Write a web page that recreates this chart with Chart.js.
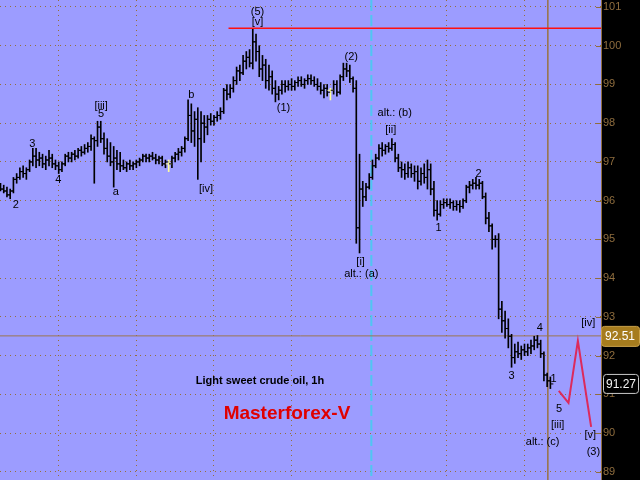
<!DOCTYPE html>
<html>
<head>
<meta charset="utf-8">
<script src="https://cdn.jsdelivr.net/npm/chart.js@4.4.0/dist/chart.umd.min.js"></script>
<style>
  html, body { margin: 0; padding: 0; background: #000; }
  #wrap { width: 640px; height: 480px; position: relative; }
</style>
</head>
<body>
<div id="wrap"><canvas id="c" width="640" height="480"></canvas></div>
<script>
// Hourly OHLC bars, light sweet crude oil
const openPrices = [
  96.35, 96.3, 96.25, 96.15, 96.25, 96.55, 96.6, 96.75, 96.7, 96.8,
  97.0, 97.15, 97.05, 97.1, 96.95, 97.05, 97.1, 96.95, 96.9, 96.8,
  96.95, 97.15, 97.1, 97.2, 97.15, 97.3, 97.25, 97.35, 97.4, 97.6,
  97.55, 97.9, 97.6, 97.35, 97.15, 97.0, 97.1, 96.95, 96.9, 96.85,
  96.95, 96.9, 96.95, 97.0, 97.05, 97.15, 97.1, 97.15, 97.1, 97.05,
  97.1, 96.95, 96.95, 96.95, 97.1, 97.2, 97.25, 97.35, 97.6, 98.2,
  97.8, 98.1, 97.6, 98.0, 97.9, 98.1, 98.05, 98.15, 98.2, 98.3,
  98.85, 98.75, 98.9, 99.1, 99.35, 99.3, 99.6, 99.7, 99.55, 100.1,
  99.85, 99.4, 99.5, 99.1, 99.2, 98.9, 98.75, 98.85, 99.0, 98.95,
  99.0, 98.95, 99.05, 99.1, 99.0, 99.1, 99.15, 99.1, 99.0, 98.95,
  98.85, 98.9, 98.85, 98.85, 99.0, 98.8, 99.2, 99.4, 99.35, 99.15,
  98.9, 95.3, 96.3, 96.1, 96.35, 96.6, 96.9, 97.1, 97.35, 97.3,
  97.4, 97.35, 97.45, 97.1, 96.85, 96.8, 96.7, 96.85, 96.7, 96.75,
  96.5, 96.7, 96.6, 96.8, 96.3, 95.75, 95.65, 95.9, 95.95, 95.9,
  95.95, 95.85, 95.9, 95.85, 96.0, 96.35, 96.4, 96.45, 96.4, 96.45,
  96.1, 95.55, 95.35, 95.0, 95.0, 93.2, 92.9, 92.7, 92.5, 91.95,
  92.1, 92.05, 92.15, 92.1, 92.2, 92.25, 92.4, 92.3, 92.05, 91.5,
  91.35
];
const highPrices = [
  96.45, 96.4, 96.35, 96.3, 96.6, 96.7, 96.85, 96.9, 96.85, 97.05,
  97.35, 97.35, 97.25, 97.2, 97.15, 97.3, 97.2, 97.05, 97.0, 97.0,
  97.2, 97.25, 97.25, 97.3, 97.35, 97.4, 97.45, 97.5, 97.7, 97.65,
  98.05, 98.05, 97.75, 97.6, 97.5, 97.4, 97.3, 97.25, 97.05, 97.0,
  97.05, 97.0, 97.05, 97.1, 97.2, 97.2, 97.2, 97.25, 97.2, 97.15,
  97.15, 97.05, 97.05, 97.15, 97.25, 97.35, 97.4, 97.65, 98.6, 98.5,
  98.3, 98.4, 98.3, 98.2, 98.2, 98.25, 98.2, 98.3, 98.4, 98.9,
  99.0, 99.0, 99.2, 99.45, 99.5, 99.75, 99.85, 99.9, 100.43, 100.3,
  100.0, 99.75, 99.65, 99.5, 99.35, 99.1, 98.95, 99.1, 99.1, 99.1,
  99.15, 99.1, 99.2, 99.2, 99.15, 99.25, 99.25, 99.2, 99.15, 99.05,
  99.0, 99.0, 98.9, 99.1, 99.1, 99.25, 99.55, 99.55, 99.5, 99.2,
  99.1, 97.2, 96.5, 96.45, 96.7, 97.05, 97.2, 97.45, 97.5, 97.45,
  97.5, 97.6, 97.5, 97.2, 97.0, 96.95, 97.0, 96.95, 96.9, 96.9,
  96.85, 96.95, 97.05, 96.95, 96.5, 96.0, 96.0, 96.05, 96.05, 96.05,
  96.0, 96.0, 96.0, 96.05, 96.4, 96.5, 96.55, 96.6, 96.55, 96.5,
  96.2, 95.7, 95.4, 95.1, 95.15, 93.4, 93.15, 92.95, 92.55, 92.3,
  92.35, 92.25, 92.3, 92.3, 92.4, 92.5, 92.52, 92.4, 92.1, 91.55,
  91.45
];
const lowPrices = [
  96.25, 96.2, 96.1, 96.05, 96.2, 96.45, 96.55, 96.6, 96.55, 96.75,
  96.9, 96.85, 96.9, 96.85, 96.8, 96.9, 96.85, 96.8, 96.7, 96.75,
  96.9, 97.0, 97.0, 97.05, 97.1, 97.15, 97.2, 97.25, 97.3, 96.45,
  97.4, 97.5, 97.2, 97.0, 96.9, 96.35, 96.8, 96.75, 96.8, 96.75,
  96.8, 96.8, 96.85, 96.9, 97.0, 97.0, 97.0, 97.05, 96.95, 96.95,
  96.9, 96.85, 96.75, 96.85, 97.0, 97.05, 97.15, 97.25, 97.55, 97.5,
  97.4, 96.55, 97.0, 97.5, 97.7, 97.95, 97.95, 98.05, 98.1, 98.25,
  98.6, 98.65, 98.8, 99.0, 99.1, 99.25, 99.4, 99.45, 99.4, 99.6,
  99.2, 99.1, 98.9, 98.85, 98.75, 98.55, 98.6, 98.75, 98.8, 98.85,
  98.85, 98.85, 98.95, 98.95, 98.9, 99.0, 99.0, 98.95, 98.85, 98.75,
  98.65, 98.7, 98.6, 98.75, 98.7, 98.75, 99.1, 99.2, 99.05, 98.8,
  94.9, 94.65, 95.85, 96.0, 96.3, 96.55, 96.85, 97.05, 97.15, 97.2,
  97.25, 97.3, 97.0, 96.75, 96.6, 96.55, 96.6, 96.6, 96.5, 96.3,
  96.4, 96.45, 96.3, 96.15, 95.6, 95.5, 95.6, 95.8, 95.85, 95.8,
  95.75, 95.75, 95.7, 95.8, 95.95, 96.2, 96.3, 96.3, 96.3, 96.05,
  95.4, 95.2, 94.75, 94.8, 92.95, 92.6, 92.45, 92.2, 91.7, 91.8,
  91.95, 91.9, 92.0, 92.0, 92.05, 92.15, 92.2, 91.95, 91.35, 91.2,
  91.15
];
const closePrices = [
  96.3, 96.25, 96.15, 96.25, 96.55, 96.6, 96.75, 96.7, 96.8, 97.0,
  97.15, 97.05, 97.1, 96.95, 97.05, 97.1, 96.95, 96.9, 96.8, 96.95,
  97.15, 97.1, 97.2, 97.15, 97.3, 97.25, 97.35, 97.4, 97.6, 97.55,
  97.9, 97.6, 97.35, 97.15, 97.0, 97.1, 96.95, 96.9, 96.85, 96.95,
  96.9, 96.95, 97.0, 97.05, 97.15, 97.1, 97.15, 97.1, 97.05, 97.1,
  96.95, 97.0, 96.95, 97.1, 97.2, 97.25, 97.35, 97.6, 98.2, 97.8,
  98.1, 97.6, 98.0, 97.9, 98.1, 98.05, 98.15, 98.2, 98.3, 98.85,
  98.75, 98.9, 99.1, 99.35, 99.3, 99.6, 99.7, 99.55, 100.1, 99.85,
  99.4, 99.5, 99.1, 99.2, 98.9, 98.75, 98.85, 99.0, 98.95, 99.0,
  98.95, 99.05, 99.1, 99.0, 99.1, 99.15, 99.1, 99.0, 98.95, 98.85,
  98.9, 98.8, 98.85, 99.0, 98.8, 99.2, 99.4, 99.35, 99.15, 98.9,
  95.3, 96.3, 96.1, 96.35, 96.6, 96.9, 97.1, 97.35, 97.3, 97.4,
  97.35, 97.45, 97.1, 96.85, 96.8, 96.7, 96.85, 96.7, 96.75, 96.5,
  96.7, 96.6, 96.8, 96.3, 95.75, 95.65, 95.9, 95.95, 95.9, 95.95,
  95.85, 95.9, 95.85, 96.0, 96.35, 96.4, 96.45, 96.4, 96.45, 96.1,
  95.55, 95.35, 95.0, 95.0, 93.2, 92.9, 92.7, 92.5, 91.95, 92.1,
  92.05, 92.15, 92.1, 92.2, 92.25, 92.4, 92.3, 92.05, 91.5, 91.35,
  91.27
];
// Bars painted in the highlight colour
const highlightBars = [52, 102];

// Price axis ticks and session separators (bar index)
const priceTicks = [89, 90, 91, 92, 93, 94, 95, 96, 97, 98, 99, 100, 101];
const dayBreaks = [18, 42, 66, 90, 138, 162];
const sessionMarker = 114.65;

// Horizontal resistance from the wave (5) top
const resistanceLevel = 100.45;
const resistanceFrom = 70.5;

// Projected path of waves [iv] and [v]
const projectionBars = [172.6, 175.6, 178.5, 182.6];
const projectionPrices = [91.09, 90.78, 92.38, 90.16];

// Cursor crosshair and last price
const cursorBar = 169.2;
const cursorPrice = 92.51;
const lastPrice = 91.27;

// Elliott wave labels
const waveText = ['2', '3', '4', '[iii]', '5', 'a', 'b', '[iv]', '(5)', '[v]', '(1)', '(2)',
  'alt.: (b)', '[ii]', '[i]', 'alt.: (a)', '1', '2', '3', '4', '1', '5', '[iii]', 'alt.: (c)',
  '[iv]', '[v]', '(3)'];
const waveBar = [4.71, 9.85, 17.9, 31.12, 31.12, 35.68, 59.0, 63.55, 79.44, 79.44, 87.49, 108.45,
  121.87, 120.63, 111.33, 111.55, 135.4, 147.8, 158.0, 166.77, 171.0, 172.65, 172.25, 167.6,
  181.7, 182.35, 183.3];
const wavePrice = [95.89, 97.46, 96.53, 98.44, 98.24, 96.22, 98.73, 96.30, 100.88, 100.62, 98.39, 99.71,
  98.26, 97.82, 94.42, 94.11, 95.30, 96.69, 91.47, 92.71, 91.40, 90.62, 90.21, 89.77,
  92.84, 89.95, 89.52];

const Y_MIN = 88.79, Y_MAX = 101.18;
const X_MIN = -0.15, X_MAX = 185.65;

const AXIS_COLOR = '#8f6d3e';
const GRID_COLOR = '#966e3c';
const barColors = closePrices.map((_, i) => highlightBars.includes(i) ? '#ffff99' : '#000000');

Chart.defaults.font.family = '"Liberation Sans", Arial, sans-serif';

const noPad = s => {
  s.paddingLeft = 0; s.paddingRight = 0; s.paddingTop = 0; s.paddingBottom = 0;
};

const backdrop = {
  id: 'backdrop',
  beforeDraw(chart) {
    const { ctx, chartArea: a, width, height } = chart;
    ctx.save();
    ctx.fillStyle = '#000000';
    ctx.fillRect(0, 0, width, height);
    ctx.fillStyle = '#9c9cff';
    ctx.fillRect(a.left, a.top, a.right - a.left, a.bottom - a.top);
    ctx.restore();
  }
};

const overlay = {
  id: 'overlay',
  afterDraw(chart) {
    const { ctx, chartArea: a, scales } = chart;
    const xs = scales.x, ys = scales.y;
    ctx.save();

    // price axis line and inner tick marks
    ctx.strokeStyle = AXIS_COLOR;
    ctx.lineWidth = 1;
    ctx.beginPath();
    ctx.moveTo(a.right + 0.5, a.top);
    ctx.lineTo(a.right + 0.5, a.bottom);
    priceTicks.forEach(v => {
      const y = Math.round(ys.getPixelForValue(v)) + 0.5;
      ctx.moveTo(a.right - 5, y);
      ctx.lineTo(a.right + 1, y);
    });
    ctx.stroke();

    // wave labels
    ctx.fillStyle = '#000000';
    ctx.font = '11px "Liberation Sans", Arial, sans-serif';
    ctx.textAlign = 'center';
    ctx.textBaseline = 'middle';
    waveText.forEach((t, k) => {
      ctx.fillText(t, xs.getPixelForValue(waveBar[k]), ys.getPixelForValue(wavePrice[k]));
    });

    // chart captions
    ctx.font = 'bold 11px "Liberation Sans", Arial, sans-serif';
    ctx.fillText('Light sweet crude oil, 1h', a.left + 260, a.top + 381);
    ctx.fillStyle = '#e00000';
    ctx.font = 'bold 19px "Liberation Sans", Arial, sans-serif';
    ctx.fillText('Masterforex-V', a.left + 287, a.top + 414);

    // cursor price tag
    const cy = ys.getPixelForValue(cursorPrice);
    ctx.fillStyle = '#a67c1e';
    ctx.strokeStyle = '#caa24a';
    ctx.beginPath();
    ctx.roundRect(a.right + 0.5, cy - 9.5, 38, 20, 3);
    ctx.fill();
    ctx.stroke();
    ctx.fillStyle = '#ffffff';
    ctx.font = '12px "Liberation Sans", Arial, sans-serif';
    ctx.textAlign = 'left';
    ctx.fillText(cursorPrice.toFixed(2), a.right + 4, cy + 1);

    // last price tag
    const ly = ys.getPixelForValue(lastPrice);
    ctx.fillStyle = '#000000';
    ctx.strokeStyle = '#c8c8c8';
    ctx.beginPath();
    ctx.roundRect(a.right + 2.5, ly - 9.5, 35, 19, 3);
    ctx.fill();
    ctx.stroke();
    ctx.fillStyle = '#f4f4f4';
    ctx.fillText(lastPrice.toFixed(2), a.right + 5, ly + 0.5);

    ctx.restore();
  }
};

const rangeData = highPrices.map((h, i) => ({ x: i, y: [lowPrices[i], h] }));
const openData = openPrices.map((o, i) => ({ x: i - 0.46, y: o }));
const closeData = closePrices.map((c, i) => ({ x: i + 0.46, y: c }));

new Chart(document.getElementById('c'), {
  type: 'bar',
  data: {
    datasets: [
      {
        type: 'line',
        data: [{ x: sessionMarker, y: Y_MAX }, { x: sessionMarker, y: Y_MIN }],
        borderColor: '#4fc6f2', borderWidth: 2, borderDash: [11, 4],
        pointRadius: 0, pointHoverRadius: 0, order: 6
      },
      {
        type: 'line',
        data: [{ x: cursorBar, y: Y_MAX }, { x: cursorBar, y: Y_MIN }],
        borderColor: '#9a7650', borderWidth: 1, pointRadius: 0, pointHoverRadius: 0, order: 5
      },
      {
        type: 'line',
        data: [{ x: X_MIN, y: cursorPrice }, { x: X_MAX, y: cursorPrice }],
        borderColor: '#9a7650', borderWidth: 1, pointRadius: 0, pointHoverRadius: 0, order: 5
      },
      {
        type: 'bar',
        data: rangeData,
        backgroundColor: barColors,
        borderWidth: 0,
        barThickness: 1,
        order: 3
      },
      {
        type: 'scatter',
        data: openData,
        pointStyle: 'line', radius: 1.5, hoverRadius: 1.5, borderWidth: 1,
        borderColor: barColors, order: 2
      },
      {
        type: 'scatter',
        data: closeData,
        pointStyle: 'line', radius: 1.5, hoverRadius: 1.5, borderWidth: 1,
        borderColor: barColors, order: 2
      },
      {
        type: 'line',
        data: [{ x: resistanceFrom, y: resistanceLevel }, { x: X_MAX, y: resistanceLevel }],
        borderColor: '#ff1010', borderWidth: 1.5, pointRadius: 0, pointHoverRadius: 0, order: 1
      },
      {
        type: 'line',
        data: projectionBars.map((b, k) => ({ x: b, y: projectionPrices[k] })),
        borderColor: '#dc2a5c', borderWidth: 2, pointRadius: 0, pointHoverRadius: 0,
        tension: 0, order: 1
      }
    ]
  },
  options: {
    responsive: false,
    animation: false,
    layout: { padding: 0, autoPadding: false },
    events: [],
    plugins: { legend: { display: false }, tooltip: { enabled: false } },
    scales: {
      x: {
        type: 'linear', min: X_MIN, max: X_MAX, offset: false,
        ticks: { display: false },
        grid: { color: GRID_COLOR, lineWidth: 1, drawTicks: false, offset: false },
        border: { display: false, dash: [1, 4] },
        afterBuildTicks: s => { s.ticks = dayBreaks.map(v => ({ value: v })); },
        afterFit: s => { s.height = 0; noPad(s); }
      },
      y: {
        position: 'right', min: Y_MIN, max: Y_MAX, beginAtZero: false,
        ticks: { color: AXIS_COLOR, font: { size: 11 }, padding: 2 },
        grid: { color: GRID_COLOR, lineWidth: 1, drawTicks: false },
        border: { display: false, dash: [1, 4] },
        afterBuildTicks: s => { s.ticks = priceTicks.map(v => ({ value: v })); },
        afterFit: s => { s.width = 39; noPad(s); }
      }
    }
  },
  plugins: [backdrop, overlay]
});
</script>
</body>
</html>
